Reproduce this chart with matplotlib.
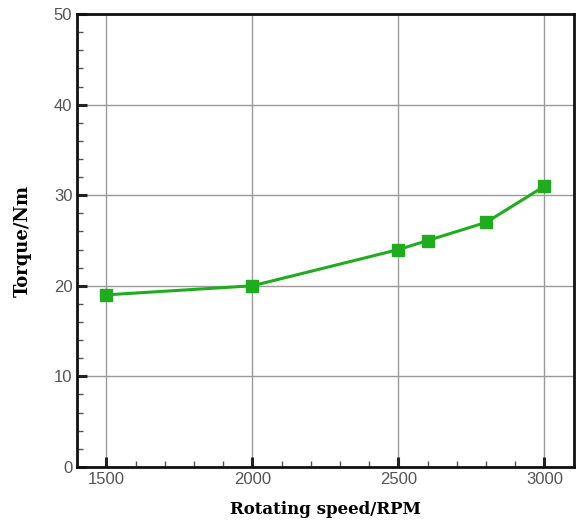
import matplotlib
matplotlib.use("Agg")
import matplotlib.pyplot as plt
from matplotlib.ticker import MultipleLocator

speed = [1500, 2000, 2500, 2600, 2800, 3000]
torque = [19, 20, 24, 25, 27, 31]
xticks = [1500, 2000, 2500, 3000]
yticks = [0, 10, 20, 30, 40, 50]

fig = plt.figure(figsize=(5.76, 5.24), dpi=100)
ax = fig.add_axes([0.134, 0.109, 0.862, 0.864])
ax.plot(speed, torque, color="#1fad1f", lw=2.2, marker="s", ms=8, zorder=3)
ax.set_xlim(1400, 3100)
ax.set_ylim(0, 50)
ax.set_xticks(xticks)
ax.set_yticks(yticks)
ax.xaxis.set_minor_locator(MultipleLocator(100))
ax.yaxis.set_minor_locator(MultipleLocator(2))
ax.grid(True, which="major", color="#9a9a9a", lw=1.0)
ax.tick_params(which="major", direction="in", length=7, width=2.2, color="#222222",
               labelsize=12, labelcolor="#555555")
ax.tick_params(which="minor", direction="in", length=4.5, width=1, color="#555555")
for lab in ax.get_xticklabels() + ax.get_yticklabels():
    lab.set_family("Liberation Sans")
for s in ax.spines.values():
    s.set_linewidth(2)
    s.set_color("#111111")
ax.set_xlabel("Rotating speed/RPM", family="DejaVu Serif", fontweight="bold", fontsize=12, labelpad=10)
ax.set_ylabel("Torque/Nm", family="DejaVu Serif", fontweight="bold", fontsize=13, labelpad=16)
fig.savefig("out.png", dpi=100)
